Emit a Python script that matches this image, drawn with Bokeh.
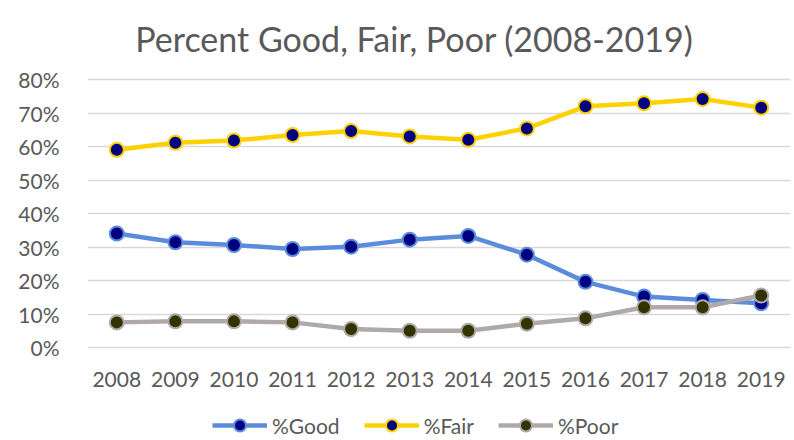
from bokeh.plotting import figure
from bokeh.models import Legend, LegendItem, NumeralTickFormatter, FixedTicker, Range1d, FactorRange, Label
from bokeh.embed import file_html
from bokeh.resources import INLINE

years = ["2008", "2009", "2010", "2011", "2012", "2013", "2014", "2015", "2016", "2017", "2018", "2019"]
good = [0.340, 0.314, 0.306, 0.294, 0.301, 0.322, 0.333, 0.277, 0.196, 0.152, 0.142, 0.132]
fair = [0.590, 0.611, 0.618, 0.634, 0.646, 0.630, 0.620, 0.654, 0.720, 0.729, 0.742, 0.716]
poor = [0.075, 0.078, 0.078, 0.075, 0.055, 0.050, 0.050, 0.071, 0.087, 0.120, 0.120, 0.155]
y_ticks = [0, 0.1, 0.2, 0.3, 0.4, 0.5, 0.6, 0.7, 0.8]
title_text = "Percent Good, Fair, Poor (2008-2019)"

FONT = "Lato"
GREY = "#595959"

# the frame spans the full page height: the title sits in its upper part,
# the year labels and the legend in its lower part
PX = 0.8 / 268.0
p = figure(frame_width=703, frame_height=440, x_range=FactorRange(*years, range_padding=0),
           y_range=Range1d(-93 * PX, 0.8 + 79 * PX), output_backend="svg", toolbar_location=None,
           min_border_left=87, min_border_right=4, min_border_top=0, min_border_bottom=0)
p.outline_line_color = None
p.background_fill_color = "white"

title = Label(x=5.58, y=0.8 + 40.7 * PX, text=title_text, text_align="center",
              text_baseline="alphabetic", text_font=FONT, text_font_size="34px",
              text_color=GREY)
p.add_layout(title)

p.yaxis.ticker = FixedTicker(ticks=y_ticks)
p.yaxis.formatter = NumeralTickFormatter(format="0%")
p.xaxis.fixed_location = 0
for ax in (p.xaxis[0], p.yaxis[0]):
    ax.axis_line_color = None
    ax.major_tick_line_color = None
    ax.minor_tick_line_color = None
    ax.major_label_text_font = FONT
    ax.major_label_text_font_size = "21px"
    ax.major_label_text_color = GREY
p.yaxis.major_label_standoff = 22
p.xaxis.major_label_standoff = 18

p.xgrid.grid_line_color = None
p.ygrid.grid_line_color = "#d9d9d9"
p.ygrid.grid_line_width = 1.5

series = [
    ("%Good", good, "#5b8cdc", "#000080"),
    ("%Fair", fair, "#ffd100", "#000080"),
    ("%Poor", poor, "#b0a9a9", "#333300"),
]
items = []
for name, vals, lc, fc in series:
    r1 = p.line(years, vals, line_color=lc, line_width=4.5)
    r2 = p.scatter(years, vals, size=14, fill_color=fc, line_color=lc, line_width=2)
    items.append(LegendItem(label=name, renderers=[r1, r2]))

legend = Legend(items=items, orientation="horizontal", location=(125, 0),
                label_text_font=FONT, label_text_font_size="21px", label_text_color=GREY,
                glyph_width=55, glyph_height=30, spacing=24, border_line_color=None,
                background_fill_alpha=0, label_standoff=5, margin=0, padding=0)
p.add_layout(legend)

open("out.html", "w").write(file_html(p, INLINE))
